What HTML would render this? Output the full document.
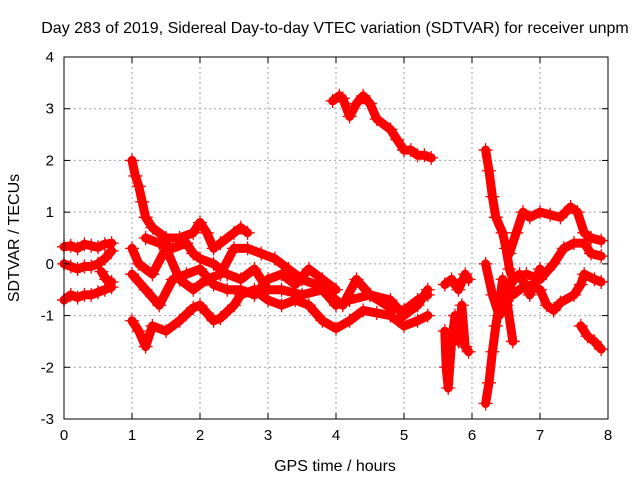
<!DOCTYPE html>
<html><head><meta charset="utf-8"><style>
body{margin:0;background:#fff}
text{font-family:"Liberation Sans",sans-serif;font-size:15px;fill:#000}
.big{font-size:16px}
</style></head><body>
<svg id="chart" width="640" height="480" xmlns="http://www.w3.org/2000/svg">
<text class="big" x="335" y="33" text-anchor="middle">Day 283 of 2019, Sidereal Day-to-day VTEC variation (SDTVAR) for receiver unpm</text>
<text class="big" x="335" y="471" text-anchor="middle">GPS time / hours</text>
<text class="big" transform="translate(19,238) rotate(-90)" text-anchor="middle">SDTVAR / TECUs</text>
<g id="grid"></g><g id="marks"></g><g id="axes"></g>
</svg>
<script>
const xTicks=[0,1,2,3,4,5,6,7,8];
const yTicks=[-3,-2,-1,0,1,2,3,4];
const trackA=[[0,0.33],[0.1,0.35],[0.2,0.3],[0.3,0.38],[0.4,0.35],[0.5,0.32],[0.6,0.38],[0.7,0.4]];
const trackB=[[0,0],[0.1,-0.05],[0.2,-0.1],[0.3,-0.05],[0.4,-0.05],[0.5,0],[0.6,0.1],[0.7,0.25]];
const trackB2=[[0.55,-0.15],[0.62,-0.3],[0.7,-0.35]];
const trackC=[[0,-0.7],[0.1,-0.6],[0.2,-0.65],[0.3,-0.6],[0.4,-0.6],[0.5,-0.55],[0.6,-0.5],[0.7,-0.45]];
const trackD1=[[1.0,2.0],[1.05,1.7],[1.1,1.5],[1.15,1.2],[1.2,0.9],[1.3,0.7],[1.5,0.5],[1.7,0.5],[1.9,0.6],[2.0,0.8],[2.1,0.6],[2.2,0.3],[2.3,0.4],[2.5,0.6],[2.6,0.7],[2.7,0.6]];
const trackD2=[[1.0,-1.1],[1.1,-1.3],[1.2,-1.6],[1.3,-1.2],[1.5,-1.3],[1.7,-1.1],[1.9,-0.85],[2.0,-0.8],[2.1,-0.95],[2.2,-1.1],[2.3,-1.05],[2.5,-0.8],[2.6,-0.6],[2.8,-0.5],[3.0,-0.7],[3.2,-0.8],[3.4,-0.7],[3.6,-0.8],[3.8,-1.1],[4.0,-1.25],[4.2,-1.1],[4.4,-0.9],[4.6,-0.95],[4.8,-1.0],[5.0,-1.2],[5.2,-1.1],[5.35,-1.0]];
const trackD3=[[1.2,0.5],[1.4,0.4],[1.6,0.3],[1.8,0.4],[1.9,0.2],[2.0,0.1],[2.2,0.0],[2.4,-0.2],[2.6,-0.3],[2.8,-0.1],[3.0,-0.5],[3.2,-0.5],[3.5,-0.6],[3.8,-0.5],[4.0,-0.8],[4.2,-0.7],[4.5,-0.6],[4.8,-0.85],[5.0,-0.9],[5.2,-0.7],[5.35,-0.6]];
const trackD4=[[1.0,0.3],[1.1,0.0],[1.3,-0.2],[1.5,0.3],[1.7,-0.3],[1.9,-0.5],[2.1,-0.3],[2.3,-0.2],[2.5,0.3],[2.7,0.3],[2.9,0.2],[3.1,0.1],[3.3,-0.1],[3.5,-0.3],[3.7,-0.4],[3.9,-0.6],[4.1,-0.8],[4.3,-0.3],[4.5,-0.6],[4.8,-0.7],[5.0,-1.0],[5.2,-0.8],[5.35,-0.5]];
const trackD5=[[1.0,-0.2],[1.2,-0.5],[1.4,-0.8],[1.6,-0.3],[1.8,-0.2],[2.0,-0.1],[2.2,-0.4],[2.4,-0.5],[2.6,-0.5],[2.8,-0.6],[3.0,-0.3],[3.2,-0.2],[3.4,-0.4],[3.6,-0.1],[3.8,-0.3],[4.0,-0.5]];
const trackE=[[3.95,3.15],[4.05,3.25],[4.1,3.2],[4.2,2.85],[4.3,3.1],[4.4,3.25],[4.5,3.1],[4.6,2.8],[4.8,2.6],[4.9,2.4],[5.0,2.2],[5.1,2.2],[5.2,2.1],[5.3,2.1],[5.4,2.05]];
const trackF1=[[5.6,-0.4],[5.7,-0.3],[5.8,-0.5],[5.9,-0.2],[5.95,-0.3]];
const trackF2=[[5.6,-1.3],[5.62,-2.0],[5.65,-2.4],[5.7,-1.5],[5.75,-1.0],[5.8,-1.5],[5.85,-0.8],[5.9,-1.6],[5.95,-1.7]];
const trackG1=[[6.2,2.2],[6.25,1.8],[6.3,1.3],[6.35,0.9],[6.45,0.6],[6.5,0.3],[6.55,-0.1],[6.6,-0.3]];
const trackG2=[[6.2,-2.7],[6.25,-2.3],[6.3,-1.7],[6.35,-1.2],[6.4,-0.8],[6.45,-0.3],[6.5,-0.6],[6.6,-1.5]];
const trackG3=[[6.2,0.0],[6.3,-0.6],[6.4,-1.0],[6.5,-0.8],[6.6,-0.5]];
const trackH1=[[6.55,0.2],[6.65,0.6],[6.75,1.0],[6.85,0.9],[7.0,1.0],[7.15,0.95],[7.3,0.9],[7.45,1.1],[7.55,1.0],[7.65,0.6],[7.75,0.5],[7.9,0.45]];
const trackH2=[[6.6,-0.3],[6.8,-0.2],[7.0,-0.3],[7.2,0.0],[7.35,0.3],[7.5,0.4],[7.65,0.4],[7.75,0.2],[7.9,0.15]];
const trackH3=[[6.6,-0.6],[6.8,-0.4],[7.0,-0.5],[7.1,-0.8],[7.2,-0.9],[7.3,-0.75],[7.5,-0.6],[7.6,-0.4],[7.65,-0.2],[7.8,-0.3],[7.9,-0.35]];
const trackH4=[[7.6,-1.2],[7.7,-1.4],[7.8,-1.5],[7.9,-1.65]];
const trackH5=[[6.55,-0.4],[6.7,-0.2],[6.85,-0.6],[7.0,-0.1]];
const tracks=[trackA,trackB,trackB2,trackC,trackD1,trackD2,trackD3,trackD4,trackD5,trackE,trackF1,trackF2,trackG1,trackG2,trackG3,trackH1,trackH2,trackH3,trackH4,trackH5];
const X0=64,X1=608,Y0=419,Y1=57;
const xs=t=>X0+(t-0)/(8-0)*(X1-X0);
const ys=v=>Y0-(v+3)/(4+3)*(Y0-Y1);
const NS="http://www.w3.org/2000/svg";
const grid=document.getElementById('grid'),marks=document.getElementById('marks'),axes=document.getElementById('axes');
function mk(tag,attrs,parent){const e=document.createElementNS(NS,tag);for(const k in attrs)e.setAttribute(k,attrs[k]);parent.appendChild(e);return e;}
xTicks.forEach(t=>{
  const x=xs(t);
  if(t>0&&t<8){const g=mk('line',{x1:x,x2:x,y1:Y1,y2:Y0,stroke:'#a0a0a0','stroke-dasharray':'2,3'},grid);
  
  }
  mk('line',{x1:x,x2:x,y1:Y0,y2:Y0-6,stroke:'#000'},axes);
  mk('line',{x1:x,x2:x,y1:Y1,y2:Y1+6,stroke:'#000'},axes);
  const l=mk('text',{x:x,y:Y0+21,'text-anchor':'middle'},axes);l.textContent=t;
  
  
});
yTicks.forEach(v=>{
  const y=ys(v);
  if(v>-3&&v<4){const g=mk('line',{x1:X0,x2:X1,y1:y,y2:y,stroke:'#a0a0a0','stroke-dasharray':'2,3'},grid);
  
  }
  mk('line',{x1:X0,x2:X0+6,y1:y,y2:y,stroke:'#000'},axes);
  mk('line',{x1:X1,x2:X1-6,y1:y,y2:y,stroke:'#000'},axes);
  const l=mk('text',{x:X0-10,y:y+5,'text-anchor':'end'},axes);l.textContent=v;
  
  
});
const fr=mk('rect',{x:X0,y:Y1,width:X1-X0,height:Y0-Y1,fill:'none',stroke:'#000'},axes);


tracks.forEach(tr=>{
  const pl=mk('polyline',{points:tr.map(p=>xs(p[0])+','+ys(p[1])).join(' '),fill:'none',stroke:'#ff0000','stroke-width':9,'stroke-linejoin':'round','stroke-linecap':'round'},marks);
  
  
  tr.forEach(p=>{
    const x=xs(p[0]),y=ys(p[1]);
    const m=mk('path',{d:`M${x-7},${y}H${x+7}M${x},${y-7}V${y+7}`,stroke:'#ff0000','stroke-width':1.3},marks);
    
    
  });
});
</script>
</body></html>
